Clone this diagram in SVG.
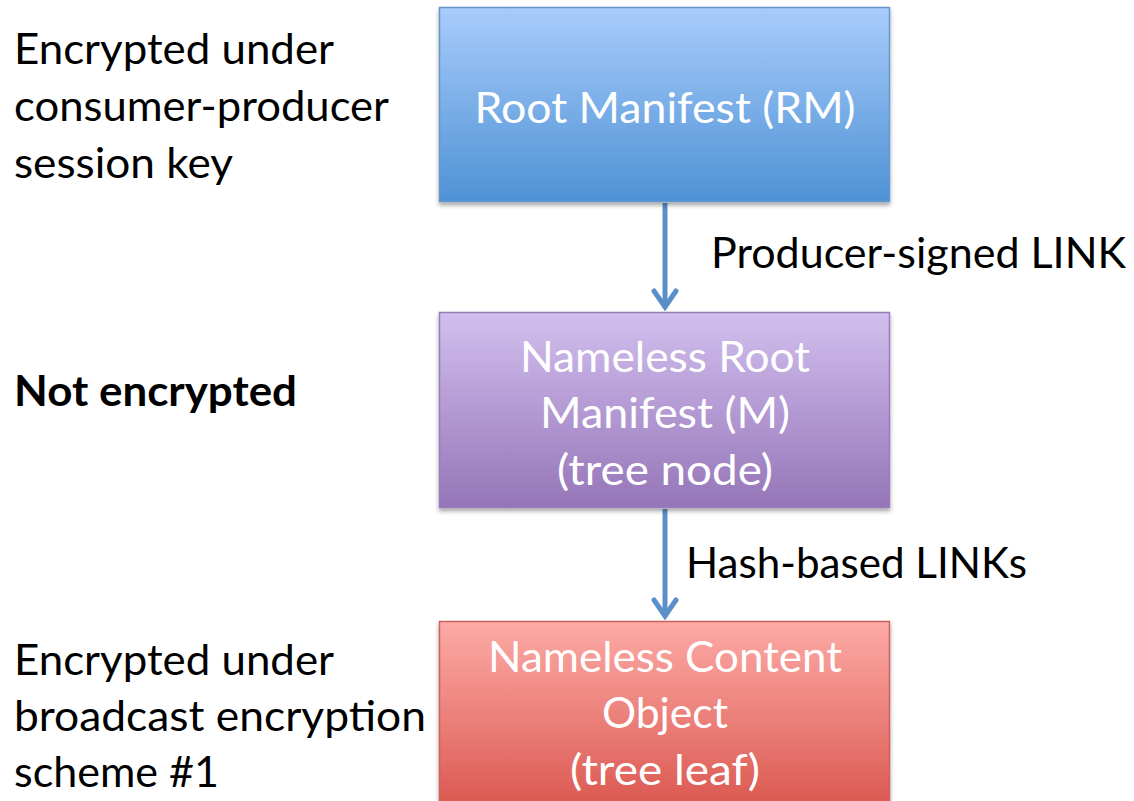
<svg xmlns="http://www.w3.org/2000/svg" width="1134" height="801" viewBox="0 0 1134 801">
  <defs>
    <linearGradient id="gBlue" x1="0" y1="0" x2="0" y2="1">
      <stop offset="0" stop-color="#a8ccfb"/>
      <stop offset="1" stop-color="#4e92d5"/>
    </linearGradient>
    <linearGradient id="gPurple" x1="0" y1="0" x2="0" y2="1">
      <stop offset="0" stop-color="#d2bfee"/>
      <stop offset="1" stop-color="#9575b8"/>
    </linearGradient>
    <linearGradient id="gRed" x1="0" y1="0" x2="0" y2="1">
      <stop offset="0" stop-color="#fdaaa6"/>
      <stop offset="1" stop-color="#d8524a"/>
    </linearGradient>
    <filter id="shadow" x="-5%" y="-5%" width="110%" height="120%">
      <feDropShadow dx="0" dy="3" stdDeviation="2.2" flood-color="#000" flood-opacity="0.35"/>
    </filter>
    <!-- open chevron head, drawn along +x so orient="auto" turns it down the line -->
    <marker id="chevron" viewBox="0 0 24 28" refX="21" refY="14" markerWidth="24" markerHeight="28" markerUnits="userSpaceOnUse" orient="auto">
      <path d="M4,3 L20,14 L4,25" fill="none" stroke="#5a90ca" stroke-width="5" stroke-linecap="round" stroke-linejoin="miter"/>
    </marker>
  </defs>
  <style>
    .side { font-family: Lato, "Open Sans", "Liberation Sans", sans-serif; font-size: 42px; fill: #000; }
    .bold { font-weight: bold; }
    .box-text { font-family: Lato, "Open Sans", "Liberation Sans", sans-serif; font-size: 42px; fill: #fff; text-anchor: middle; }
    .edge { stroke: #5a90ca; stroke-width: 5; fill: none; }
  </style>

  <rect width="1134" height="801" fill="#fff"/>

  <!-- side annotations -->
  <g id="note-session">
    <text class="side" x="14" y="64" textLength="320" lengthAdjust="spacingAndGlyphs">Encrypted under</text>
    <text class="side" x="14" y="121" textLength="375" lengthAdjust="spacingAndGlyphs">consumer-producer</text>
    <text class="side" x="14" y="178" textLength="219" lengthAdjust="spacingAndGlyphs">session key</text>
  </g>
  <g id="note-plain">
    <text class="side bold" x="14" y="406" textLength="283" lengthAdjust="spacingAndGlyphs">Not encrypted</text>
  </g>
  <g id="note-broadcast">
    <text class="side" x="14" y="675" textLength="320" lengthAdjust="spacingAndGlyphs">Encrypted under</text>
    <text class="side" x="14" y="731" textLength="412" lengthAdjust="spacingAndGlyphs">broadcast encryption</text>
    <text class="side" x="14" y="787" textLength="205" lengthAdjust="spacingAndGlyphs">scheme #1</text>
  </g>

  <!-- connectors -->
  <g id="connectors">
    <line class="edge" x1="665" y1="203" x2="665" y2="308" marker-end="url(#chevron)"/>
    <line class="edge" x1="665" y1="509" x2="665" y2="617" marker-end="url(#chevron)"/>
    <text class="side" x="711" y="268" textLength="415" lengthAdjust="spacingAndGlyphs">Producer-signed LINK</text>
    <text class="side" x="686" y="578" textLength="341" lengthAdjust="spacingAndGlyphs">Hash-based LINKs</text>
  </g>

  <!-- nodes -->
  <g id="root-manifest">
    <rect x="439.5" y="7.5" width="450" height="194" fill="url(#gBlue)" stroke="#6795cc" stroke-width="1.5" filter="url(#shadow)"/>
    <text class="box-text" x="665" y="123" textLength="381" lengthAdjust="spacingAndGlyphs">Root Manifest (RM)</text>
  </g>
  <g id="nameless-root-manifest">
    <rect x="439.5" y="312.5" width="450" height="195" fill="url(#gPurple)" stroke="#977cb9" stroke-width="1.5" filter="url(#shadow)"/>
    <text class="box-text" x="665" y="372" textLength="290" lengthAdjust="spacingAndGlyphs">Nameless Root</text>
    <text class="box-text" x="665" y="428" textLength="250" lengthAdjust="spacingAndGlyphs">Manifest (M)</text>
    <text class="box-text" x="665" y="485" textLength="216" lengthAdjust="spacingAndGlyphs">(tree node)</text>
  </g>
  <g id="nameless-content-object">
    <rect x="439.5" y="621.5" width="450" height="200" fill="url(#gRed)" stroke="#c9625c" stroke-width="1.5" filter="url(#shadow)"/>
    <text class="box-text" x="665" y="672" textLength="354" lengthAdjust="spacingAndGlyphs">Nameless Content</text>
    <text class="box-text" x="665" y="728" textLength="126" lengthAdjust="spacingAndGlyphs">Object</text>
    <text class="box-text" x="665" y="785" textLength="190" lengthAdjust="spacingAndGlyphs">(tree leaf)</text>
  </g>
</svg>
